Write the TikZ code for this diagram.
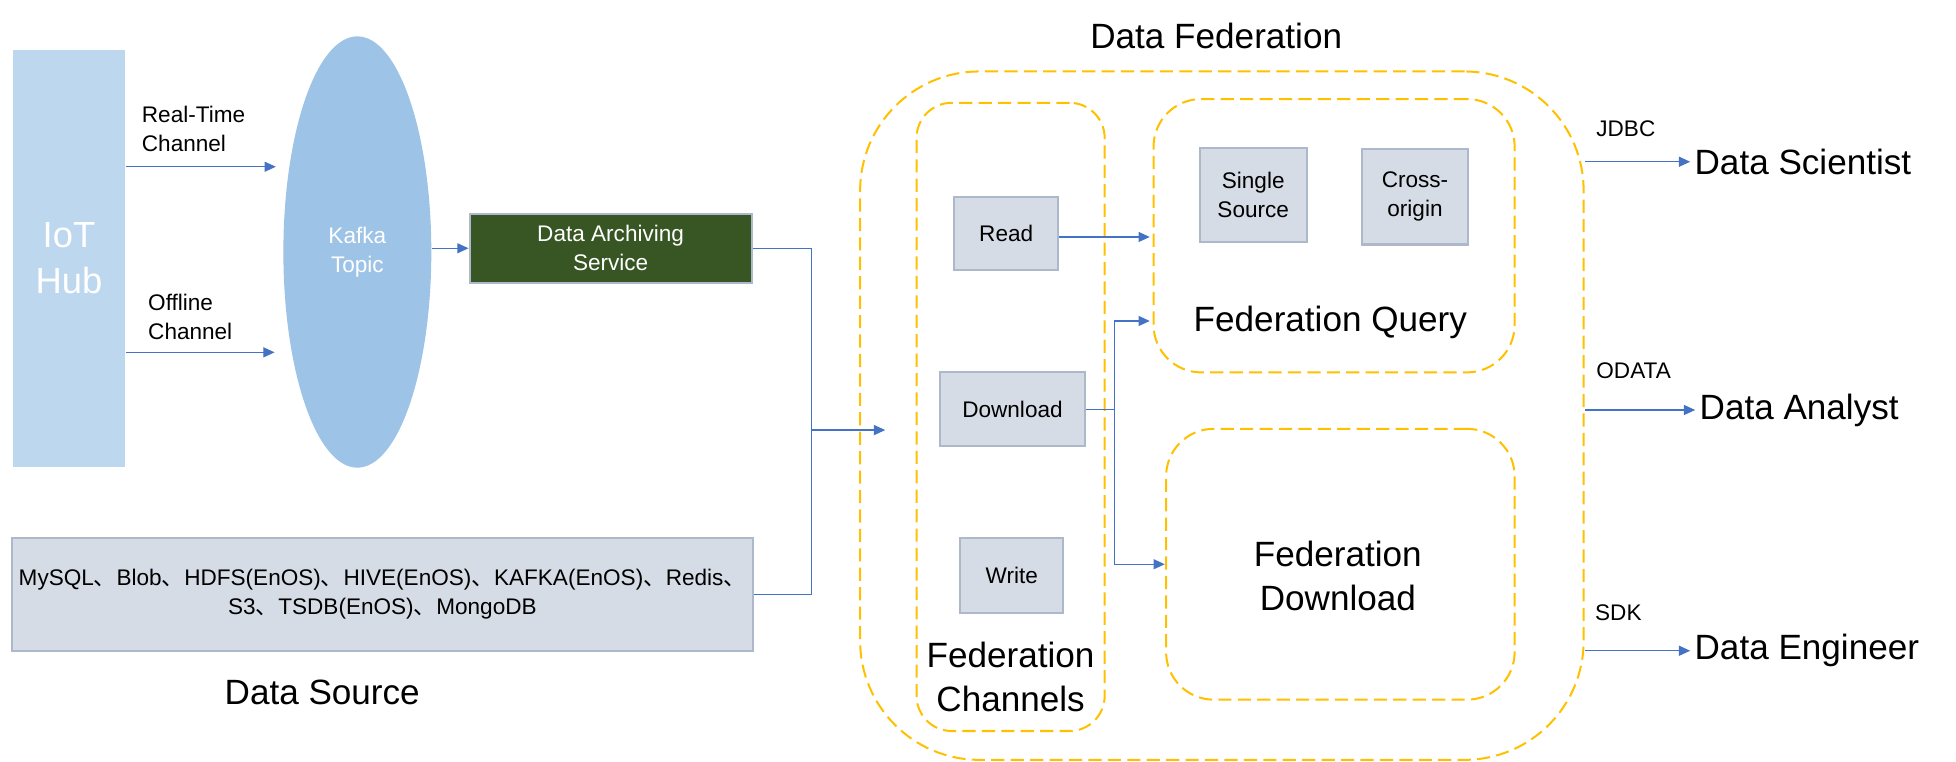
\documentclass[tikz,border=0pt]{standalone}
\usepackage{fontspec}
\setmainfont{Liberation Sans}
\newfontfamily\cjkfont{Noto Sans CJK SC}
\usetikzlibrary{arrows.meta,shapes.geometric}
\definecolor{iotblue}{HTML}{BDD7EE}
\definecolor{kafkablue}{HTML}{9DC3E6}
\definecolor{darkgreen}{HTML}{375623}
\definecolor{boxfill}{HTML}{D6DCE5}
\definecolor{boxline}{HTML}{ADB9CA}
\definecolor{gold}{HTML}{FFC000}
\definecolor{linkblue}{HTML}{4472C4}
\newcommand\dunhao{{\cjkfont 、}}
\begin{document}
\begin{tikzpicture}[x=1pt,y=-1pt,
  small/.style={font=\fontsize{18}{23}\selectfont},
  big/.style={font=\fontsize{28}{35}\selectfont},
  graybox/.style={draw=boxline,line width=1.6pt,fill=boxfill,small,align=center,inner sep=0pt},
  cont/.style={draw=gold,line width=1.6pt,dash pattern=on 10.5pt off 5pt},
  conn/.style={draw=linkblue,line width=1pt},
  arr/.style={conn,-{Triangle[length=9pt,width=8pt]}},
  lbl/.style={small,inner sep=0pt,anchor=west,align=left}]
\useasboundingbox (0,0) rectangle (1560,607);

% left part
\node[fill=iotblue,minimum width=90pt,minimum height=333pt,inner sep=0pt,text=white,align=center,
  font=\fontsize{29}{37}\selectfont] (iot) at (55,206) {IoT\\Hub};
\node[ellipse,fill=kafkablue,minimum width=118pt,minimum height=344pt,inner sep=0pt,text=white,
  small,align=center] (kafka) at (285,201) {Kafka\\Topic};
\node[draw=boxline,line width=1.6pt,fill=darkgreen,minimum width=225pt,minimum height=55pt,inner sep=0pt,
  text=white,small,align=center] (das) at (487,198) {Data Archiving\\Service};
\node[graybox,minimum width=591pt,minimum height=90pt] (ds) at (305,474)
  {MySQL\dunhao Blob\dunhao HDFS(EnOS)\dunhao HIVE(EnOS)\dunhao KAFKA(EnOS)\dunhao Redis\dunhao\\S3\dunhao TSDB(EnOS)\dunhao MongoDB};
\node[big] (dslabel) at (257,552) {Data Source};

\node[lbl] (rtl) at (113,103) {Real-Time\\Channel};
\node[lbl] (ofl) at (118,253) {Offline\\Channel};
\coordinate (rtin) at (220,133);
\coordinate (ofin) at (219,281);
\draw[arr] (iot.east |- rtin) -- (rtin);
\draw[arr] (iot.east |- ofin) -- (ofin);
\draw[arr] (kafka.east |- das.west) -- (das.west);

% federation containers
\node[big] (dflabel) at (970,29) {Data Federation};
\node[cont,rounded corners=95pt,minimum width=577pt,minimum height=549pt] (outer) at (974.5,331.5) {};
\node[cont,rounded corners=28pt,minimum width=150pt,minimum height=501pt] (fc) at (806,332.5) {};
\node[cont,rounded corners=38pt,minimum width=288pt,minimum height=218pt] (fq) at (1064,188) {};
\node[cont,rounded corners=38pt,minimum width=278pt,minimum height=216pt] (fd) at (1069,450) {};

\node[graybox,minimum width=83pt,minimum height=58pt] (read) at (802.5,186) {Read};
\node[graybox,minimum width=115pt,minimum height=59pt] (dl) at (807.5,326.5) {Download};
\node[graybox,minimum width=82pt,minimum height=60pt] (wr) at (807,459) {Write};
\node[graybox,minimum width=85pt,minimum height=75pt] (ss) at (999.5,155.5) {Single\\Source};
\node[graybox,minimum width=85pt,minimum height=76pt] (co) at (1128.5,157) {Cross-\\origin};

\node[big] (fqlabel) at (1061,257) {Federation Query};
\node[big,align=center] (fdlabel) at (1067,459) {Federation\\Download};
\node[big,align=center] (fclabel) at (806,540) {Federation\\Channels};

% connectors into federation
\coordinate (mj) at (647,343);
\coordinate (fedin) at (706,343);
\draw[conn] (das.east) -| (mj);
\draw[conn] (ds.east) -| (mj);
\draw[arr] (mj) -- (fedin);

\coordinate (readin) at (917,189);
\draw[arr] (read.east |- readin) -- (readin);
\coordinate (dlj) at (889,326.5);
\coordinate (fqin) at (917,256);
\coordinate (fdin) at (929,450);
\draw[arr] (dl.east) -- (dlj) |- (fqin);
\draw[arr] (dlj) |- (fdin);

% outputs
\node[big,anchor=west] (dsci) at (1348,129) {Data Scientist};
\node[big,anchor=west] (dana) at (1352,327) {Data Analyst};
\node[big,anchor=west] (deng) at (1348,519) {Data Engineer};
\draw[arr] (outer.east |- dsci.west) -- (dsci.west);
\draw[arr] (outer.east |- dana.west) -- (dana.west);
\draw[arr] (outer.east |- deng.west) -- (deng.west);
\node[lbl] (jdbc) at (1273,103) {JDBC};
\node[lbl] (odata) at (1273,296) {ODATA};
\node[lbl] (sdk) at (1272,489) {SDK};
\end{tikzpicture}
\end{document}
